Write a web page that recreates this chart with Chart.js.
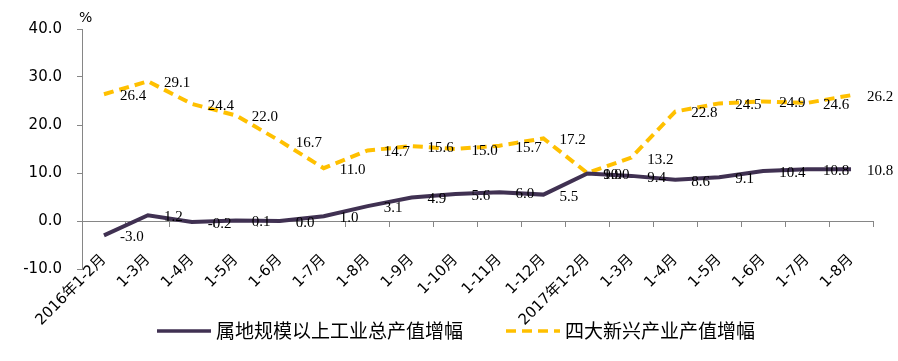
<!DOCTYPE html>
<html>
<head>
<meta charset="utf-8">
<script src="https://cdn.jsdelivr.net/npm/chart.js@4/dist/chart.umd.min.js"></script>
<style>
  html, body { margin: 0; padding: 0; background: #ffffff; }
</style>
</head>
<body>
<canvas id="chart" width="898" height="361"></canvas>
<script>
const months = [
  "2016年1-2月", "1-3月", "1-4月", "1-5月", "1-6月", "1-7月", "1-8月", "1-9月",
  "1-10月", "1-11月", "1-12月", "2017年1-2月", "1-3月", "1-4月", "1-5月", "1-6月",
  "1-7月", "1-8月"
];
const industryGrowth = [
  -3.0, 1.2, -0.2, 0.1, 0.0, 1.0, 3.1, 4.9, 5.6, 6.0, 5.5, 9.9, 9.4, 8.6, 9.1, 10.4, 10.8, 10.8
];
const newIndustryGrowth = [
  26.4, 29.1, 24.4, 22.0, 16.7, 11.0, 14.7, 15.6, 15.0, 15.7, 17.2, 10.0, 13.2, 22.8, 24.5, 24.9, 24.6, 26.2
];
const seriesNames = ["属地规模以上工业总产值增幅", "四大新兴产业产值增幅"];

const cjk = '"DejaVu Sans", "Noto Sans CJK SC", sans-serif';

// value labels to the right of each point, like the Excel original
const valueLabels = {
  id: "valueLabels",
  afterDatasetsDraw(chart) {
    const ctx = chart.ctx;
    ctx.save();
    ctx.font = '15px "Liberation Serif", serif';
    ctx.fillStyle = "#000000";
    ctx.textAlign = "left";
    ctx.textBaseline = "middle";
    chart.data.datasets.forEach((ds, i) => {
      chart.getDatasetMeta(i).data.forEach((pt, j) => {
        ctx.fillText(ds.data[j].toFixed(1), pt.x + 16, pt.y + 2);
      });
    });
    ctx.restore();
  }
};

// y tick labels: the "." gets a bogus measured width here, so right-align by hand
// (DejaVu's period is exactly half a digit wide), then legend and the "%" unit
const extras = {
  id: "extras",
  afterDraw(chart) {
    const ctx = chart.ctx;
    const ys = chart.scales.y;
    ctx.save();
    ctx.fillStyle = "#000000";
    ctx.font = '15px "DejaVu Sans", sans-serif';
    ctx.textAlign = "left";
    ctx.textBaseline = "middle";
    const dotW = ctx.measureText("0").width / 2;
    ys.ticks.forEach((t) => {
      const txt = t.value.toFixed(1);
      const [intPart, fracPart] = txt.split(".");
      const w = ctx.measureText(intPart).width + dotW + ctx.measureText(fracPart).width;
      ctx.fillText(txt, ys.right - 20 - w, ys.getPixelForValue(t.value));
    });

    ctx.font = '14px "DejaVu Sans", sans-serif';
    ctx.fillText("%", 79, 18);

    ctx.font = '19px "Noto Sans CJK SC", sans-serif';
    const y = 331;
    let x = 157;
    chart.data.datasets.forEach((ds) => {
      ctx.strokeStyle = ds.borderColor;
      ctx.lineWidth = 3.5;
      ctx.setLineDash(ds.borderDash || []);
      ctx.beginPath();
      ctx.moveTo(x, y);
      ctx.lineTo(x + 54, y);
      ctx.stroke();
      ctx.setLineDash([]);
      ctx.fillText(ds.label, x + 59, y);
      x += 59 + ctx.measureText(ds.label).width + 43;
    });
    ctx.restore();
  }
};

new Chart(document.getElementById("chart"), {
  type: "line",
  data: {
    labels: months,
    datasets: [{
      label: seriesNames[0],
      data: industryGrowth,
      borderColor: "#403152",
      borderWidth: 4,
      pointRadius: 0,
      tension: 0,
      fill: false
    }, {
      label: seriesNames[1],
      data: newIndustryGrowth,
      borderColor: "#FFC000",
      borderWidth: 4,
      borderDash: [10, 6],
      pointRadius: 0,
      tension: 0,
      fill: false
    }]
  },
  options: {
    responsive: false,
    animation: false,
    layout: { padding: { top: 29, right: 25, bottom: 92, left: 0 } },
    plugins: {
      legend: { display: false },
      tooltip: { enabled: false }
    },
    scales: {
      x: {
        position: { y: 0 },
        offset: true,
        grid: { offset: true, drawOnChartArea: false, color: "#868686", tickLength: 5 },
        border: { color: "#868686", width: 1 },
        ticks: {
          minRotation: 45,
          maxRotation: 45,
          autoSkip: false,
          padding: 25,
          color: "#000000",
          font: { family: cjk, size: 15 }
        }
      },
      y: {
        min: -10,
        max: 40,
        afterFit(scale) { scale.width = 82; },
        grid: { drawOnChartArea: false, color: "#868686", tickLength: 5 },
        border: { color: "#868686", width: 1 },
        ticks: {
          stepSize: 10,
          display: false
        }
      }
    }
  },
  plugins: [valueLabels, extras]
});
</script>
</body>
</html>
